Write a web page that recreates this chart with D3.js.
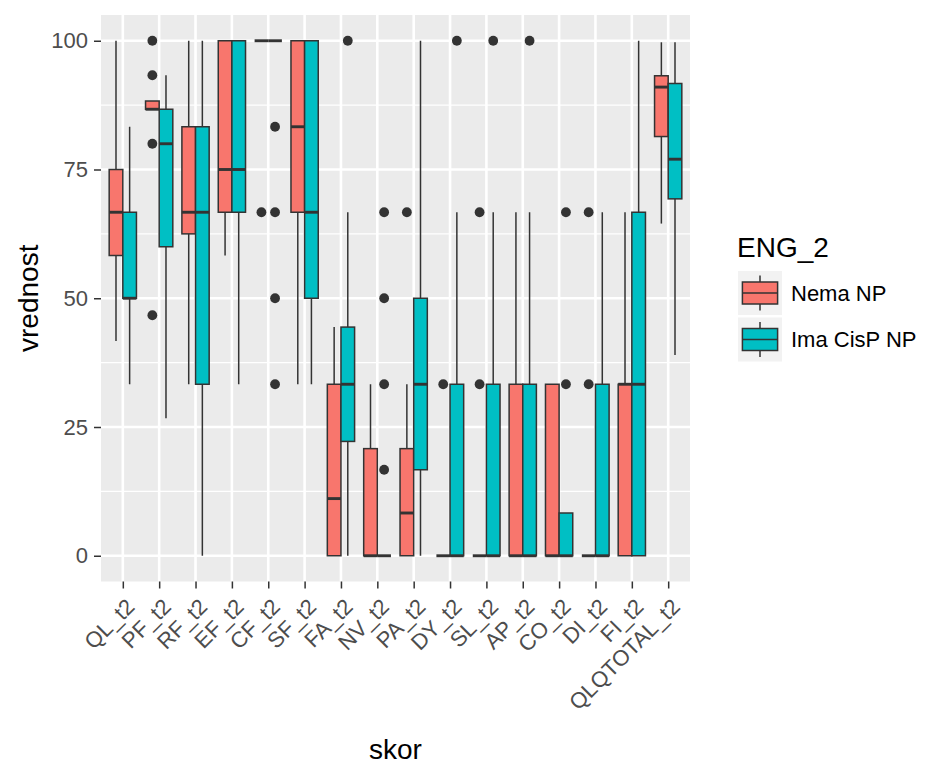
<!DOCTYPE html>
<html>
<head>
<meta charset="utf-8">
<script src="https://cdn.jsdelivr.net/npm/d3@7"></script>
<style>
  body { margin: 0; background: #fff; }
  text { font-family: "Liberation Sans", Arial, sans-serif; }
</style>
</head>
<body>
<div class="chart"></div>
<script>
var categories = ['QL_t2', 'PF_t2', 'RF_t2', 'EF_t2', 'CF_t2', 'SF_t2', 'FA_t2', 'NV_t2',
  'PA_t2', 'DY_t2', 'SL_t2', 'AP_t2', 'CO_t2', 'DI_t2', 'FI_t2', 'QLQTOTAL_t2'];
var groups = ['Nema NP', 'Ima CisP NP'];
var colors = ['#F8766D', '#00BFC4'];
var yTicks = [0, 25, 50, 75, 100];

// Nema NP
var nemaLower  = [41.7, 86.7, 33.3, 58.3, 100, 33.3, 0, 0, 0, 0, 0, 0, 0, 0, 0, 64.5];
var nemaQ1     = [58.3, 86.7, 62.5, 66.7, 100, 66.7, 0, 0, 0, 0, 0, 0, 0, 0, 0, 81.4];
var nemaMedian = [66.7, 86.7, 66.7, 75, 100, 83.3, 11.1, 0, 8.3, 0, 0, 0, 0, 0, 33.3, 91.0];
var nemaQ3     = [75, 88.3, 83.3, 100, 100, 100, 33.3, 20.8, 20.8, 0, 0, 33.3, 33.3, 0, 33.3, 93.2];
var nemaUpper  = [100, 88.3, 100, 100, 100, 100, 44.4, 33.3, 33.3, 0, 0, 66.7, 33.3, 0, 66.7, 99.7];
var nemaOut    = [[], [100, 93.3, 80, 46.7], [], [], [66.7], [], [], [], [66.7], [33.3],
  [66.7, 33.3], [], [], [66.7, 33.3], [], []];

// Ima CisP NP
var imaLower  = [33.3, 26.7, 0, 33.3, 100, 33.3, 0, 0, 0, 0, 0, 0, 0, 0, 0, 39.0];
var imaQ1     = [50, 60, 33.3, 66.7, 100, 50, 22.2, 0, 16.7, 0, 0, 0, 0, 0, 0, 69.3];
var imaMedian = [50, 80, 66.7, 75, 100, 66.7, 33.3, 0, 33.3, 0, 0, 0, 0, 0, 33.3, 77.0];
var imaQ3     = [66.7, 86.7, 83.3, 100, 100, 100, 44.4, 0, 50, 33.3, 33.3, 33.3, 8.3, 33.3, 66.7, 91.7];
var imaUpper  = [83.3, 93.3, 100, 100, 100, 100, 66.7, 0, 100, 66.7, 66.7, 66.7, 8.3, 66.7, 100, 99.7];
var imaOut    = [[], [], [], [], [83.3, 66.7, 50, 33.3], [], [100], [66.7, 50, 33.3, 16.7], [],
  [100], [100], [100], [66.7, 33.3], [], [], []];

var series = [
  { lo: nemaLower, q1: nemaQ1, med: nemaMedian, q3: nemaQ3, hi: nemaUpper, out: nemaOut },
  { lo: imaLower, q1: imaQ1, med: imaMedian, q3: imaQ3, hi: imaUpper, out: imaOut }
];

var boxes = [];
series.forEach(function (s, gi) {
  categories.forEach(function (c, i) {
    boxes.push({ cat: c, g: gi, lo: s.lo[i], q1: s.q1[i], med: s.med[i], q3: s.q3[i], hi: s.hi[i], out: s.out[i] });
  });
});

var panel = { left: 101, right: 690, top: 15, bottom: 581.5 };
var ink = '#333333';
var lw = 1.5;

var svg = d3.select('.chart')
  .append('svg')
    .attr('width', 934)
    .attr('height', 764);

var x = d3.scalePoint()
  .domain(categories)
  .range([panel.left, panel.right])
  .padding(0.6);
var step = x.step();
var dodge = d3.scaleBand()
  .domain(d3.range(groups.length))
  .range([-0.375 * step, 0.375 * step]);

var y = d3.scaleLinear()
  .domain([-5, 105])
  .range([panel.bottom, panel.top]);

// panel background + grid
svg.append('rect')
  .attr('x', panel.left)
  .attr('y', panel.top)
  .attr('width', panel.right - panel.left)
  .attr('height', panel.bottom - panel.top)
  .attr('fill', '#EBEBEB');

var minor = yTicks.slice(1).map(d => d - 12.5);
svg.append('g').selectAll('line')
  .data(minor)
  .enter().append('line')
    .attr('x1', panel.left).attr('x2', panel.right)
    .attr('y1', d => y(d)).attr('y2', d => y(d))
    .attr('stroke', '#fff').attr('stroke-width', 1.3);

svg.append('g').selectAll('line')
  .data(yTicks)
  .enter().append('line')
    .attr('x1', panel.left).attr('x2', panel.right)
    .attr('y1', d => y(d)).attr('y2', d => y(d))
    .attr('stroke', '#fff').attr('stroke-width', 2.6);

svg.append('g').selectAll('line')
  .data(categories)
  .enter().append('line')
    .attr('x1', d => x(d)).attr('x2', d => x(d))
    .attr('y1', panel.top).attr('y2', panel.bottom)
    .attr('stroke', '#fff').attr('stroke-width', 2.6);

// boxes
var bw = dodge.bandwidth();
var box = svg.append('g').selectAll('g')
  .data(boxes)
  .enter().append('g')
    .attr('transform', d => 'translate(' + (x(d.cat) + dodge(d.g)) + ',0)');

box.append('line')
  .attr('x1', bw / 2).attr('x2', bw / 2)
  .attr('y1', d => y(d.hi)).attr('y2', d => y(d.q3))
  .attr('stroke', ink).attr('stroke-width', lw);
box.append('line')
  .attr('x1', bw / 2).attr('x2', bw / 2)
  .attr('y1', d => y(d.q1)).attr('y2', d => y(d.lo))
  .attr('stroke', ink).attr('stroke-width', lw);
box.append('rect')
  .attr('x', 0)
  .attr('width', bw)
  .attr('y', d => y(d.q3))
  .attr('height', d => y(d.q1) - y(d.q3))
  .attr('fill', d => colors[d.g])
  .attr('stroke', ink).attr('stroke-width', lw);
box.append('line')
  .attr('x1', 0).attr('x2', bw)
  .attr('y1', d => y(d.med)).attr('y2', d => y(d.med))
  .attr('stroke', ink).attr('stroke-width', 2.9);
box.selectAll('circle')
  .data(d => d.out)
  .enter().append('circle')
    .attr('cx', bw / 2)
    .attr('cy', d => y(d))
    .attr('r', 4.9)
    .attr('fill', ink);

// axes
var yAxis = svg.append('g')
  .attr('transform', 'translate(' + panel.left + ',0)')
  .call(d3.axisLeft(y).tickValues(yTicks).tickSize(7).tickPadding(6));
var xAxis = svg.append('g')
  .attr('transform', 'translate(0,' + panel.bottom + ')')
  .call(d3.axisBottom(x).tickSize(7));

[yAxis, xAxis].forEach(function (a) {
  a.select('.domain').remove();
  a.selectAll('.tick line').attr('stroke', ink).attr('stroke-width', lw);
  a.selectAll('.tick text')
    .attr('fill', '#4D4D4D')
    .style('font-size', '22px')
    .style('font-family', '"Liberation Sans", Arial, sans-serif');
});

xAxis.selectAll('.tick text')
  .attr('x', 0)
  .attr('y', 0)
  .attr('dy', '0.75em')
  .attr('text-anchor', 'end')
  .attr('transform', 'translate(1,15) rotate(-45)');

svg.append('text')
  .attr('x', (panel.left + panel.right) / 2)
  .attr('y', 759)
  .attr('text-anchor', 'middle')
  .style('font-size', '28px')
  .text('skor');

svg.append('text')
  .attr('transform', 'translate(38,' + (panel.top + panel.bottom) / 2 + ') rotate(-90)')
  .attr('text-anchor', 'middle')
  .style('font-size', '28px')
  .text('vrednost');

// legend
var legend = svg.append('g').attr('transform', 'translate(738,271)');
legend.append('text')
  .attr('x', -1)
  .attr('y', -14)
  .style('font-size', '28px')
  .text('ENG_2');

var key = legend.selectAll('.key')
  .data(groups)
  .enter().append('g')
    .attr('class', 'key')
    .attr('transform', (d, i) => 'translate(0,' + i * 46.5 + ')');
key.append('rect')
  .attr('width', 44).attr('height', 44)
  .attr('fill', '#F2F2F2');
key.append('line')
  .attr('x1', 22).attr('x2', 22).attr('y1', 4.4).attr('y2', 39.6)
  .attr('stroke', ink).attr('stroke-width', lw);
key.append('rect')
  .attr('x', 4.4).attr('y', 11).attr('width', 35.2).attr('height', 22)
  .attr('fill', (d, i) => colors[i])
  .attr('stroke', ink).attr('stroke-width', lw);
key.append('line')
  .attr('x1', 4.4).attr('x2', 39.6).attr('y1', 22).attr('y2', 22)
  .attr('stroke', ink).attr('stroke-width', lw);
key.append('text')
  .attr('x', 53)
  .attr('y', 22)
  .attr('dy', '0.36em')
  .style('font-size', '22px')
  .text(d => d);
</script>
</body>
</html>
